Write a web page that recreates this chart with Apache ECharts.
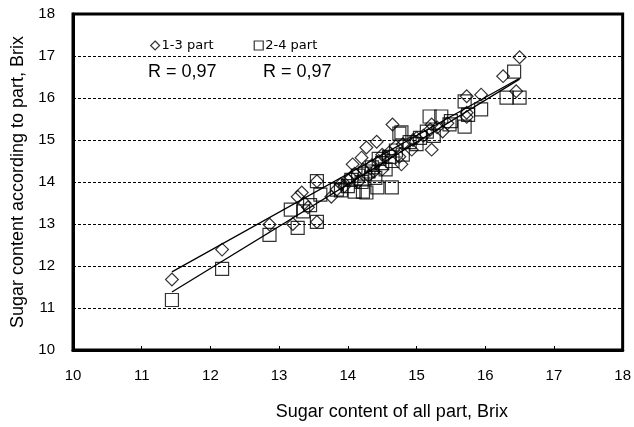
<!DOCTYPE html>
<html>
<head>
<meta charset="utf-8">
<script src="https://cdn.jsdelivr.net/npm/echarts@6/dist/echarts.min.js"></script>
<style>
html,body{margin:0;padding:0;background:#fff;}
#chart{width:634px;height:427px;}
</style>
</head>
<body>
<div id="chart"></div>
<script>
// ---- data ----
const seriesNames = ['1-3 part', '2-4 part'];
const part13 = [
  [11.44,11.68],[12.17,12.39],[12.86,12.99],[13.20,13.00],[13.27,13.65],[13.33,13.75],
  [13.37,13.50],[13.42,13.40],[13.55,14.02],[13.55,13.05],[13.76,13.65],[13.84,13.82],
  [13.90,13.95],[13.95,13.90],[14.00,14.05],[14.05,14.10],[14.07,14.42],[14.10,14.20],
  [14.15,14.00],[14.20,14.58],[14.22,14.30],[14.27,14.82],[14.30,14.15],[14.35,14.40],
  [14.38,14.25],[14.42,14.96],[14.45,14.50],[14.50,14.30],[14.50,14.65],[14.55,14.60],
  [14.60,14.70],[14.65,15.37],[14.70,14.85],[14.75,14.60],[14.78,14.42],[14.80,14.90],
  [14.93,14.77],[14.95,15.00],[15.00,15.05],[15.10,15.10],[15.20,15.25],[15.22,14.77],
  [15.22,15.37],[15.30,15.30],[15.38,15.20],[15.45,15.40],[15.73,15.65],[15.73,16.04],
  [15.73,15.55],[15.94,16.08],[16.26,16.52],[16.45,16.16],[16.50,16.97]
];
const part24 = [
  [11.44,11.19],[12.17,11.93],[12.86,12.74],[13.17,13.34],[13.27,12.91],[13.35,13.30],
  [13.45,13.45],[13.55,14.02],[13.55,13.05],[13.60,13.70],[13.84,13.82],[13.90,13.80],
  [14.00,13.90],[14.05,14.05],[14.10,13.77],[14.15,14.15],[14.20,14.00],[14.22,13.77],
  [14.25,14.20],[14.27,13.75],[14.30,14.25],[14.35,14.35],[14.40,14.10],[14.43,13.87],
  [14.45,14.55],[14.50,14.45],[14.55,14.30],[14.60,14.60],[14.64,13.87],[14.65,14.50],
  [14.70,14.75],[14.75,15.15],[14.78,15.18],[14.80,14.65],[14.90,14.95],[15.00,14.90],
  [15.05,15.05],[15.15,15.20],[15.19,15.56],[15.25,15.10],[15.36,15.56],[15.48,15.37],
  [15.50,15.45],[15.70,15.32],[15.70,15.92],[15.75,15.60],[15.94,15.73],[16.31,16.01],
  [16.42,16.63],[16.50,16.01]
];
const trend13 = [[11.44,11.86],[16.50,16.47]];
const trend24 = [[11.44,11.38],[16.50,16.45]];
const rLabels = ['R = 0,97', 'R = 0,97'];
const axisMin = 10, axisMax = 18, axisStep = 1;
const xTitle = 'Sugar content of all part, Brix';
const yTitle = 'Sugar content according to part, Brix';

// ---- chart ----
const FONT = '"Liberation Sans", Arial, sans-serif';
const WIDE = '"DejaVu Sans", sans-serif';
const chart = echarts.init(document.getElementById('chart'), null, {renderer: 'canvas'});
const diamondPath = 'path://M5,0 L10,5 L5,10 L0,5 Z';
const markerStyle = {color: 'rgba(0,0,0,0)', borderColor: '#000', borderWidth: 1.2};

chart.setOption({
  animation: false,
  backgroundColor: '#fff',
  textStyle: {fontFamily: FONT, color: '#000'},
  grid: {left: 73, right: 11, top: 14, bottom: 77, show: true, borderColor: '#000', borderWidth: 3, backgroundColor: 'rgba(0,0,0,0)'},
  legend: {
    left: 145, top: 34, itemWidth: 9, itemHeight: 9, itemGap: 40,
    selectedMode: false,
    textStyle: {fontFamily: WIDE, fontSize: 13, color: '#000', padding: [4, 0, 0, -3]},
    data: [
      {name: seriesNames[0], icon: diamondPath, itemStyle: markerStyle},
      {name: seriesNames[1], icon: 'rect', itemStyle: markerStyle}
    ]
  },
  xAxis: {
    type: 'value', min: axisMin, max: axisMax, interval: axisStep,
    name: xTitle, nameLocation: 'middle', nameGap: 53,
    nameTextStyle: {fontFamily: FONT, fontSize: 18, color: '#000', padding: [0, 0, 0, 88]},
    axisLine: {show: true, onZero: false, lineStyle: {color: '#000', width: 3}},
    axisTick: {show: true, inside: true, length: 4, lineStyle: {color: '#000', width: 1}},
    axisLabel: {fontFamily: FONT, fontSize: 15, color: '#000', margin: 18},
    splitLine: {show: false}
  },
  yAxis: {
    type: 'value', min: axisMin, max: axisMax, interval: axisStep,
    name: yTitle, nameLocation: 'middle', nameGap: 46,
    nameTextStyle: {fontFamily: FONT, fontSize: 18, color: '#000'},
    axisLine: {show: true, onZero: false, lineStyle: {color: '#000', width: 3}},
    axisTick: {show: false},
    axisLabel: {fontFamily: FONT, fontSize: 15, color: '#000', margin: 18},
    splitLine: {show: true, lineStyle: {color: '#000', width: 1, type: [3, 2]}}
  },
  graphic: [
    {type: 'text', left: 148, top: 63, style: {text: rLabels[0], fontFamily: FONT, fontSize: 18, fill: '#000'}},
    {type: 'text', left: 263, top: 63, style: {text: rLabels[1], fontFamily: FONT, fontSize: 18, fill: '#000'}}
  ],
  series: [
    {
      name: seriesNames[0], type: 'scatter', data: part13,
      symbol: 'rect', symbolSize: 9, symbolRotate: 45,
      itemStyle: markerStyle, z: 3
    },
    {
      name: seriesNames[1], type: 'scatter', data: part24,
      symbol: 'rect', symbolSize: 13,
      itemStyle: markerStyle, z: 3
    },
    {
      name: 'trend13', type: 'line', data: trend13, symbol: 'none',
      lineStyle: {color: '#000', width: 1.3}, z: 2, silent: true
    },
    {
      name: 'trend24', type: 'line', data: trend24, symbol: 'none',
      lineStyle: {color: '#000', width: 1.3}, z: 2, silent: true
    }
  ]
});
</script>
</body>
</html>
